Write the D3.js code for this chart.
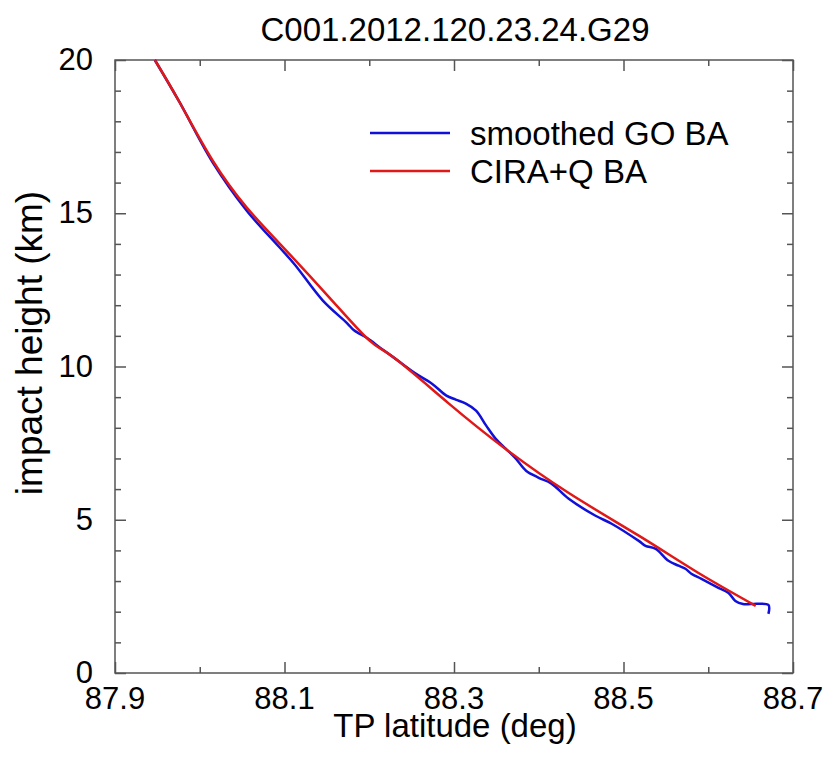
<!DOCTYPE html>
<html>
<head>
<meta charset="utf-8">
<script src="https://cdn.jsdelivr.net/npm/d3@7"></script>
<style>
  body { margin: 0; background: #fff; }
  text { font-family: "Liberation Sans", Arial, Helvetica, sans-serif; fill: #000; }
</style>
</head>
<body>
<svg id="chart" width="829" height="757"></svg>
<script>
// values
var title = 'C001.2012.120.23.24.G29';
var xMajorTicks = [87.9, 88.1, 88.3, 88.5, 88.7];
var xMinorTicks = [88.0, 88.2, 88.4, 88.6];
var yMajorTicks = [0, 5, 10, 15, 20];
var yMinorTicks = [1, 2, 3, 4, 6, 7, 8, 9, 11, 12, 13, 14, 16, 17, 18, 19];

var seriesNames = ['smoothed GO BA', 'CIRA+Q BA'];

var goLat = [87.947, 87.976, 88.015, 88.055, 88.094, 88.112, 88.145, 88.174, 88.182, 88.198,
  88.214, 88.229, 88.253, 88.274, 88.291, 88.302, 88.314,
  88.326, 88.338, 88.349, 88.361, 88.373, 88.385, 88.400, 88.415, 88.435, 88.467,
  88.486, 88.518, 88.526, 88.538, 88.553, 88.565, 88.573, 88.580, 88.592, 88.612,
  88.624, 88.632, 88.641, 88.651, 88.671, 88.671];
var goHeight = [20.0, 18.63, 16.67, 15.10, 13.89, 13.33, 12.16, 11.41, 11.18, 10.92,
  10.59, 10.29, 9.80, 9.44, 9.05, 8.92, 8.79,
  8.56, 8.07, 7.65, 7.32, 6.99, 6.60, 6.37, 6.18, 5.69, 5.13,
  4.87, 4.31, 4.15, 4.05, 3.66, 3.50, 3.40, 3.24, 3.07, 2.78,
  2.61, 2.35, 2.25, 2.25, 2.22, 1.93];

var ciraLat = [87.947, 87.976, 88.015, 88.055, 88.094, 88.153, 88.200, 88.229,
  88.294, 88.359, 88.435, 88.518, 88.588, 88.656];
var ciraHeight = [20.0, 18.63, 16.73, 15.20, 14.02, 12.25, 10.85, 10.29,
  8.79, 7.35, 5.88, 4.48, 3.27, 2.19];

var margin = { top: 60, right: 36, bottom: 84, left: 115 };
var svg = d3.select('#chart');
var width = 829 - margin.left - margin.right;
var height = 757 - margin.top - margin.bottom;

var x = d3.scaleLinear().domain([87.9, 88.7]).range([0, width]);
var y = d3.scaleLinear().domain([0, 20]).range([height, 0]);

var g = svg.append('g').attr('transform', 'translate(' + margin.left + ',' + margin.top + ')');

var axisColor = '#555';
var major = 11, minor = 6;

function styleAxis(sel) {
  sel.select('.domain').remove();
  sel.selectAll('.tick line').attr('stroke', axisColor).attr('stroke-width', 1.5);
  sel.selectAll('.tick text').remove();
}

// ticks on all four sides, pointing inward
g.append('g').attr('transform', 'translate(0,' + height + ')')
  .call(d3.axisBottom(x).tickValues(xMajorTicks).tickSize(-major)).call(styleAxis);
g.append('g').attr('transform', 'translate(0,' + height + ')')
  .call(d3.axisBottom(x).tickValues(xMinorTicks).tickSize(-minor)).call(styleAxis);
g.append('g')
  .call(d3.axisTop(x).tickValues(xMajorTicks).tickSize(-major)).call(styleAxis);
g.append('g')
  .call(d3.axisTop(x).tickValues(xMinorTicks).tickSize(-minor)).call(styleAxis);
g.append('g')
  .call(d3.axisLeft(y).tickValues(yMajorTicks).tickSize(-major)).call(styleAxis);
g.append('g')
  .call(d3.axisLeft(y).tickValues(yMinorTicks).tickSize(-minor)).call(styleAxis);
g.append('g').attr('transform', 'translate(' + width + ',0)')
  .call(d3.axisRight(y).tickValues(yMajorTicks).tickSize(-major)).call(styleAxis);
g.append('g').attr('transform', 'translate(' + width + ',0)')
  .call(d3.axisRight(y).tickValues(yMinorTicks).tickSize(-minor)).call(styleAxis);

g.append('rect')
  .attr('width', width).attr('height', height)
  .attr('fill', 'none').attr('stroke', axisColor).attr('stroke-width', 1.5);

// tick labels
g.selectAll('.xlab').data(xMajorTicks).enter().append('text')
  .attr('class', 'xlab')
  .attr('x', d => x(d)).attr('y', height + 36)
  .attr('text-anchor', 'middle')
  .style('font-size', '31px')
  .text(d => d3.format('.1f')(d));

g.selectAll('.ylab').data(yMajorTicks).enter().append('text')
  .attr('class', 'ylab')
  .attr('x', -22).attr('y', d => y(d))
  .attr('dy', '0.33em')
  .attr('text-anchor', 'end')
  .style('font-size', '31px')
  .text(d => d);

// curves
var ciraData = ciraLat.map((d, i) => ({ x: d, y: ciraHeight[i] }));
var goData = goLat.map((d, i) => ({ x: d, y: goHeight[i] }));

g.append('path')
  .datum(goData)
  .attr('fill', 'none').attr('stroke', '#1010d8').attr('stroke-width', 2.5)
  .attr('stroke-linejoin', 'round')
  .attr('d', d3.line().x(d => x(d.x)).y(d => y(d.y)).curve(d3.curveCatmullRom.alpha(0.5)));

g.append('path')
  .datum(ciraData)
  .attr('fill', 'none').attr('stroke', '#e01818').attr('stroke-width', 2.5)
  .attr('d', d3.line().x(d => x(d.x)).y(d => y(d.y)).curve(d3.curveNatural));

// legend
var legendColors = ['#1010d8', '#e01818'];
var legend = g.selectAll('.leg').data(seriesNames).enter().append('g')
  .attr('class', 'leg')
  .attr('transform', (d, i) => 'translate(255,' + (73 + i * 38) + ')');
legend.append('line')
  .attr('x1', 0).attr('x2', 80)
  .attr('stroke', (d, i) => legendColors[i]).attr('stroke-width', 2.5);
legend.append('text')
  .attr('x', 100).attr('y', 12)
  .style('font-size', '33px')
  .text(d => d);

// titles
svg.append('text')
  .attr('x', 455).attr('y', 41)
  .attr('text-anchor', 'middle')
  .style('font-size', '33px')
  .text(title);

svg.append('text')
  .attr('x', 455).attr('y', 737)
  .attr('text-anchor', 'middle')
  .style('font-size', '33px')
  .text('TP latitude (deg)');

svg.append('text')
  .attr('transform', 'translate(42,343) rotate(-90)')
  .attr('text-anchor', 'middle')
  .style('font-size', '37px')
  .text('impact height (km)');
</script>
</body>
</html>
